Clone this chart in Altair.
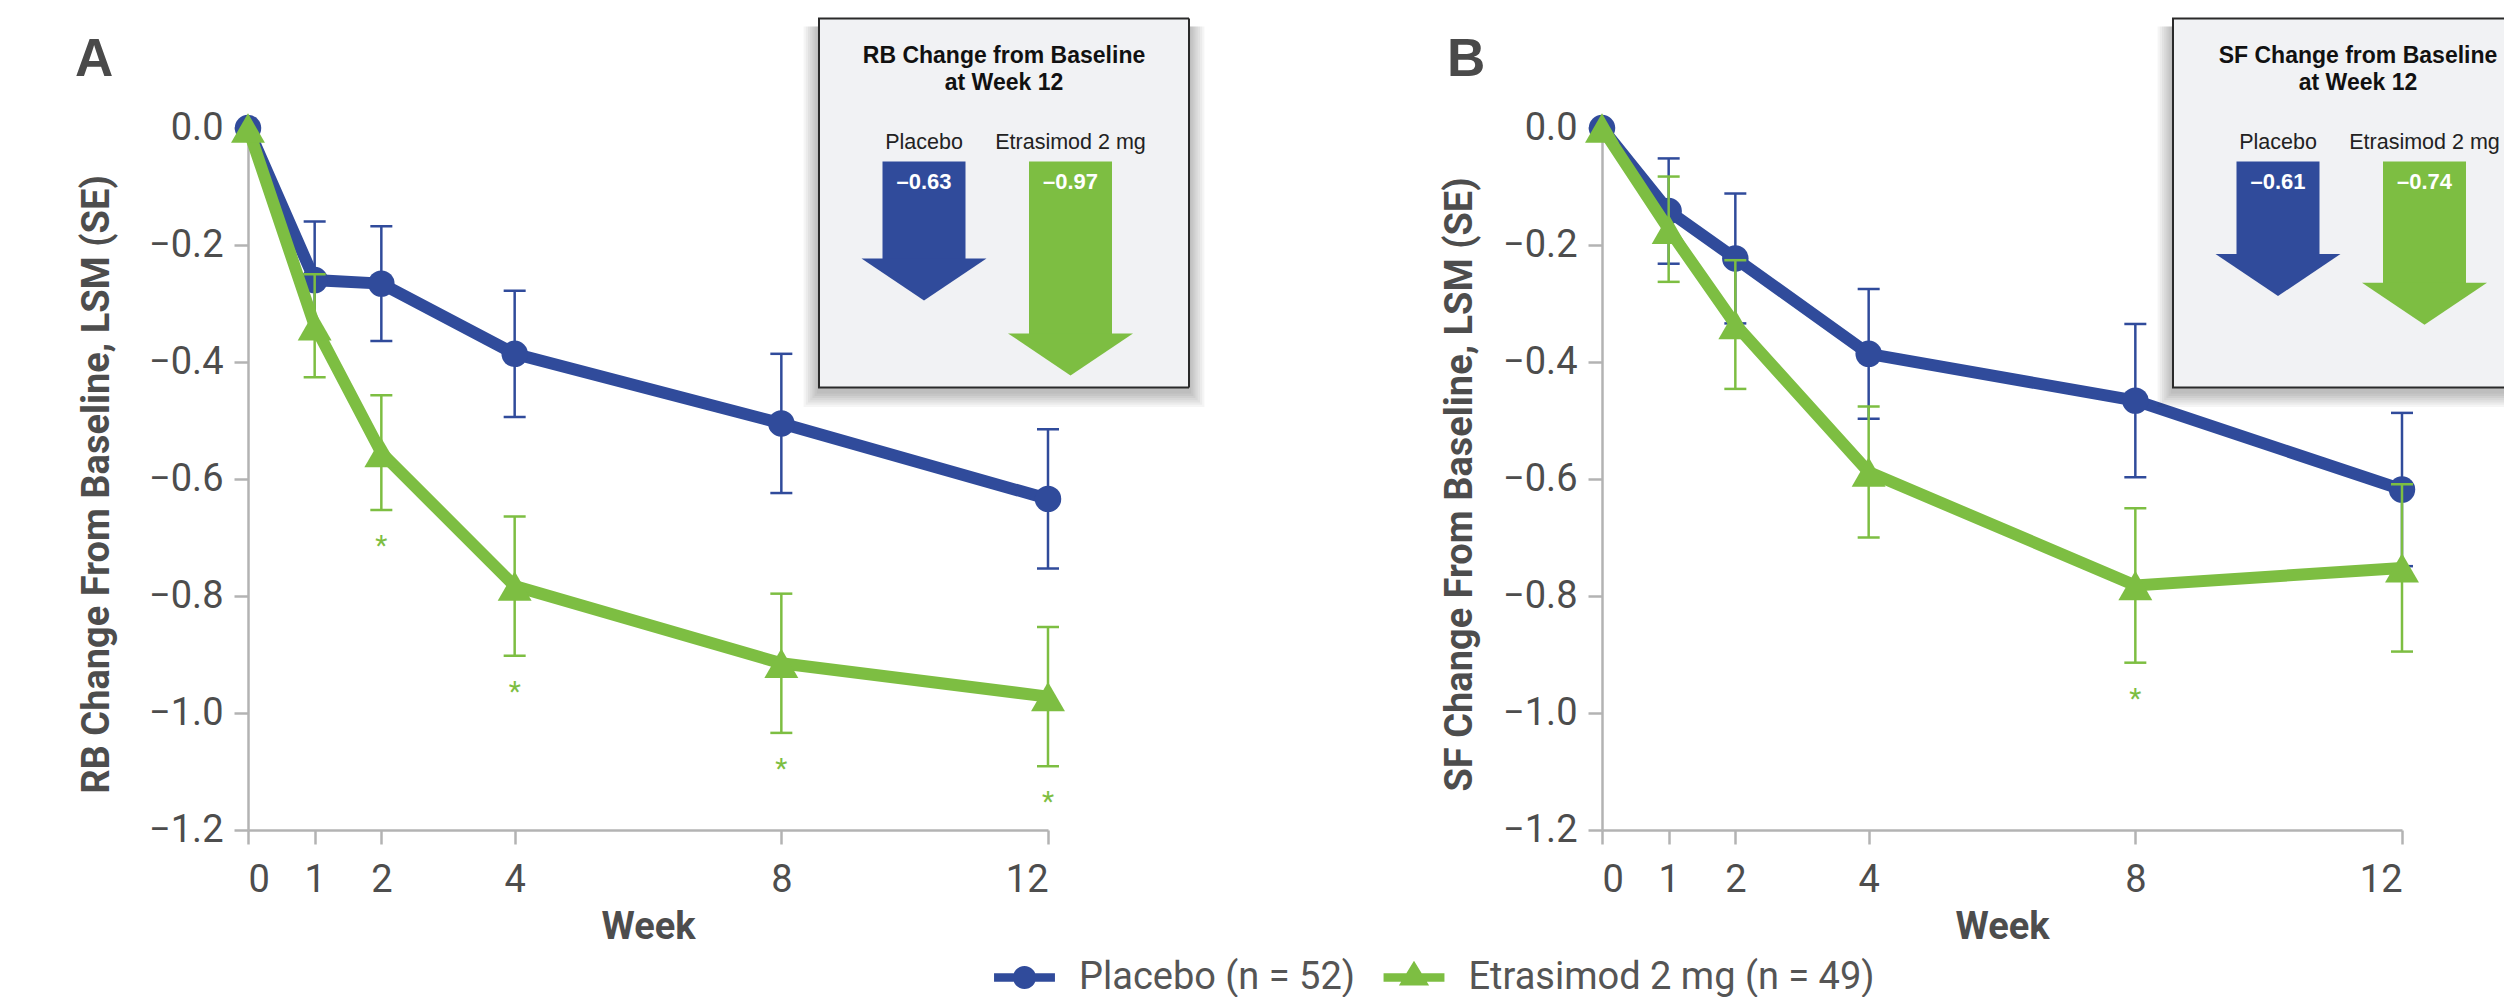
import altair as alt
import pandas as pd

# ---------------- data ----------------
weeks = [0, 1, 2, 4, 8, 12]
series_names = ["Placebo (n = 52)", "Etrasimod 2 mg (n = 49)"]
inset_groups = ["Placebo", "Etrasimod 2 mg"]
y_ticks = [0.0, -0.2, -0.4, -0.6, -0.8, -1.0, -1.2]

# Panel A: RB change from baseline (LSM) and SE
rb_placebo = [0.0, -0.260, -0.266, -0.386, -0.505, -0.634]
rb_placebo_se = [0.0, 0.100, 0.098, 0.108, 0.119, 0.119]
rb_etr = [0.0, -0.338, -0.555, -0.783, -0.915, -0.972]
rb_etr_se = [0.0, 0.088, 0.098, 0.119, 0.119, 0.119]
rb_etr_sig = [0, 0, 1, 1, 1, 1]
rb_week12 = [-0.63, -0.97]

# Panel B: SF change from baseline (LSM) and SE
sf_placebo = [0.0, -0.142, -0.223, -0.386, -0.466, -0.618]
sf_placebo_se = [0.0, 0.090, 0.111, 0.111, 0.131, 0.131]
sf_etr = [0.0, -0.173, -0.336, -0.588, -0.782, -0.752]
sf_etr_se = [0.0, 0.090, 0.110, 0.112, 0.132, 0.143]
sf_etr_sig = [0, 0, 0, 0, 1, 0]
sf_week12 = [-0.61, -0.74]

# ---------------- styles ----------------
BLUE = "#304b9b"
GREEN = "#7dbe42"
AXIS_GRAY = "#b3b3b3"
TEXT_GRAY = "#4d4d4d"
W, H = 800, 702

# legend symbols: unit = 21 px, path spans 61 px wide
LEG_CIRCLE = ("M-1.45,-0.2L1.45,-0.2L1.45,0.2L-1.45,0.2Z "
              "M0.55,0A0.55,0.55 0 1 1 -0.55,0A0.55,0.55 0 1 1 0.55,0Z")
LEG_TRI = ("M-1.45,-0.2L1.45,-0.2L1.45,0.2L-1.45,0.2Z "
           "M0,-0.8L0.72,0.38L-0.72,0.38Z")
LEG_OVER = 9.5  # path overflow beyond the 42px symbol box on each side
HEAD = "M-1,-0.336L1,-0.336L0,0.336Z"

# inset geometry (pixels relative to the plot origin)
BOX_L, BOX_R, BOX_T, BOX_B = 571, 941, -109.5, 259.5
SHAFT_TOP, PX_PER_UNIT = 33.5, 220.5
SHAFT_HALF, HEAD_W, HEAD_H = 41.5, 125, 42
ARROW_X0, ARROW_DX = 676, 146.5


def make_df(pl, pl_se, et, et_se, et_sig):
    rows = []
    for i, w in enumerate(weeks):
        rows.append({"week": w, "series": series_names[0], "idx": 0,
                     "lsm": pl[i], "se": pl_se[i], "sig": 0})
        rows.append({"week": w, "series": series_names[1], "idx": 1,
                     "lsm": et[i], "se": et_se[i], "sig": et_sig[i]})
    df = pd.DataFrame(rows)
    df["lo"] = df["lsm"] - df["se"]
    df["hi"] = df["lsm"] + df["se"]
    return df


one = pd.DataFrame({"k": [0]})


def panel(df, letter, letter_x, y_title, title_x, box_title, wk12, box_limit, with_legend):
    x_axis = alt.Axis(values=weeks, title="Week", grid=False,
                      labelFont="Roboto", labelFontSize=38, labelColor=TEXT_GRAY,
                      labelPadding=17, tickSize=14, tickWidth=2.5, tickColor=AXIS_GRAY,
                      domainColor=AXIS_GRAY, domainWidth=2.5,
                      titleFont="Roboto", titleFontWeight="bold", titleFontSize=38,
                      titleColor=TEXT_GRAY, titleBaseline="alphabetic", titleY=108)
    y_axis = alt.Axis(values=y_ticks, format=".1f", title=y_title, grid=False,
                      labelFont="Roboto", labelFontSize=38, labelColor=TEXT_GRAY,
                      labelPadding=11, tickSize=14, tickWidth=2.5, tickColor=AXIS_GRAY,
                      domainColor=AXIS_GRAY, domainWidth=2.5,
                      titleFont="Roboto", titleFontWeight="bold", titleFontSize=38,
                      titleColor=TEXT_GRAY, titleBaseline="alphabetic",
                      titleAngle=270, titleX=title_x, titleY=356)
    xs = alt.Scale(domain=[0, 12], nice=False, zero=False)
    ys = alt.Scale(domain=[-1.2, 0], nice=False, zero=False)

    def X():
        return alt.X("week:Q", scale=xs, axis=x_axis)

    def Y(f):
        return alt.Y(f"{f}:Q", scale=ys, axis=y_axis)

    base = alt.Chart(df)
    layers = []
    shapes = ["circle", "triangle-up"]
    sizes = [700, 1150]
    for idx, color in enumerate([BLUE, GREEN]):
        sub = base.transform_filter(f"datum.idx == {idx}")
        err = sub.transform_filter("datum.se > 0")
        layers.append(err.mark_rule(color=color, strokeWidth=2.5).encode(
            x=X(), y=Y("lo"), y2="hi:Q"))
        for f in ["lo", "hi"]:
            layers.append(err.mark_tick(orient="horizontal", size=22, thickness=2.5,
                                        color=color, opacity=1).encode(x=X(), y=Y(f)))
        layers.append(sub.mark_line(color=color, strokeWidth=12).encode(x=X(), y=Y("lsm")))
        layers.append(sub.mark_point(filled=True, opacity=1, shape=shapes[idx],
                                     size=sizes[idx], color=color, strokeWidth=0).encode(
            x=X(), y=Y("lsm")))

    stars = base.transform_filter("datum.sig == 1").mark_text(
        text="*", font="Roboto", fontSize=28, color=GREEN, baseline="alphabetic",
        dy=45).encode(x=X(), y=Y("lo"))
    layers.append(stars)

    if with_legend:
        leg = alt.Legend(orient="none", legendX=746 + LEG_OVER, legendY=828.5,
                         direction="horizontal", title=None, symbolSize=42 * 42,
                         symbolStrokeWidth=0, labelFont="Roboto", labelFontSize=38,
                         labelColor="#555555", labelLimit=0, labelOffset=24 + LEG_OVER,
                         columnPadding=18 + LEG_OVER, padding=0)
        dummy = base.transform_filter("datum.week < 0").mark_point(
            filled=True, opacity=1).encode(
            x=X(), y=Y("lsm"),
            color=alt.Color("series:N", scale=alt.Scale(domain=series_names, range=[BLUE, GREEN]),
                            legend=leg),
            shape=alt.Shape("series:N", scale=alt.Scale(domain=series_names, range=[LEG_CIRCLE, LEG_TRI]),
                            legend=leg))
        layers.append(dummy)

    # panel letter
    layers.append(alt.Chart(one).mark_text(
        text=letter, font="Liberation Sans", fontWeight="bold", fontSize=53,
        color="#4a4a4a", align="left", baseline="alphabetic").encode(
        x=alt.value(letter_x), y=alt.value(-52.5)))

    # ---------- inset box ----------
    right = min(BOX_R, box_limit)
    for i in range(1, 8):
        e = 2.2 * i
        layers.append(alt.Chart(one).mark_rect(color="black", opacity=0.04).encode(
            x=alt.value(BOX_L - e), x2=alt.value(min(BOX_R + e, box_limit)),
            y=alt.value(BOX_T + 8), y2=alt.value(BOX_B + 4 + e)))
    layers.append(alt.Chart(one).mark_rect(fill="#f1f2f4", strokeWidth=0).encode(
        x=alt.value(BOX_L), x2=alt.value(right), y=alt.value(BOX_T), y2=alt.value(BOX_B)))
    border = [(BOX_L, BOX_L, BOX_T, BOX_B), (BOX_L - 1, right, BOX_T, BOX_T),
              (BOX_L - 1, right, BOX_B, BOX_B)]
    if right >= BOX_R:
        border.append((BOX_R, BOX_R, BOX_T, BOX_B))
    for x1, x2, y1, y2 in border:
        layers.append(alt.Chart(one).mark_rule(color="#2a2a2a", strokeWidth=2).encode(
            x=alt.value(x1), x2=alt.value(x2), y=alt.value(y1), y2=alt.value(y2)))
    layers.append(alt.Chart(one).mark_text(
        text=box_title, font="Liberation Sans", fontWeight="bold", fontSize=23,
        color="#111111", align="center", baseline="alphabetic", lineHeight=27.7).encode(
        x=alt.value((BOX_L + BOX_R) / 2), y=alt.value(-65.2)))

    inset = pd.DataFrame({"group": inset_groups, "val": wk12, "idx": [0, 1]})
    ib = alt.Chart(inset).transform_calculate(
        cx=f"{ARROW_X0} + datum.idx * {ARROW_DX}",
        xl=f"{ARROW_X0} + datum.idx * {ARROW_DX} - {SHAFT_HALF}",
        xr=f"{ARROW_X0} + datum.idx * {ARROW_DX} + {SHAFT_HALF}",
        tip=f"{SHAFT_TOP} + abs(datum.val) * {PX_PER_UNIT}",
    ).transform_calculate(
        sb=f"datum.tip - {HEAD_H} + 1",
        hy=f"datum.tip - {HEAD_H / 2}",
        top=f"{SHAFT_TOP}",
        label="'\u2013' + format(abs(datum.val), '.2f')",
    )
    layers.append(ib.mark_text(font="Liberation Sans", fontSize=21.5, color="#222222",
                               align="center", baseline="alphabetic").encode(
        x=alt.X("cx:Q", scale=None), y=alt.value(20.8), text="group:N"))
    for idx, color in enumerate([BLUE, GREEN]):
        s = ib.transform_filter(f"datum.idx == {idx}")
        layers.append(s.mark_rect(color=color, opacity=1).encode(
            x=alt.X("xl:Q", scale=None), x2="xr:Q",
            y=alt.Y("top:Q", scale=None), y2="sb:Q"))
        layers.append(s.mark_point(shape=HEAD, size=HEAD_W ** 2, filled=True, opacity=1,
                                   color=color, strokeWidth=0).encode(
            x=alt.X("cx:Q", scale=None), y=alt.Y("hy:Q", scale=None)))
    layers.append(ib.mark_text(font="Liberation Sans", fontWeight="bold", fontSize=22,
                               color="white", align="center", baseline="alphabetic").encode(
        x=alt.X("cx:Q", scale=None), y=alt.value(61), text="label:N"))

    return alt.layer(*layers).properties(width=W, height=H)


df_a = make_df(rb_placebo, rb_placebo_se, rb_etr, rb_etr_se, rb_etr_sig)
df_b = make_df(sf_placebo, sf_placebo_se, sf_etr, sf_etr_se, sf_etr_sig)

chart_a = panel(df_a, "A", -173, "RB Change From Baseline, LSM (SE)", -140,
                ["RB Change from Baseline", "at Week 12"], rb_week12, 10000, True)
chart_b = panel(df_b, "B", -155, "SF Change From Baseline, LSM (SE)", -131,
                ["SF Change from Baseline", "at Week 12"], sf_week12, 2504 - 1602, False)

chart = alt.hconcat(chart_a, chart_b, spacing=554, bounds="flush").properties(
    padding={"left": 67, "top": 9, "right": 0, "bottom": 0}
).configure_view(strokeWidth=0)

chart.save("out.html", embed_options={"renderer": "svg", "actions": False})
